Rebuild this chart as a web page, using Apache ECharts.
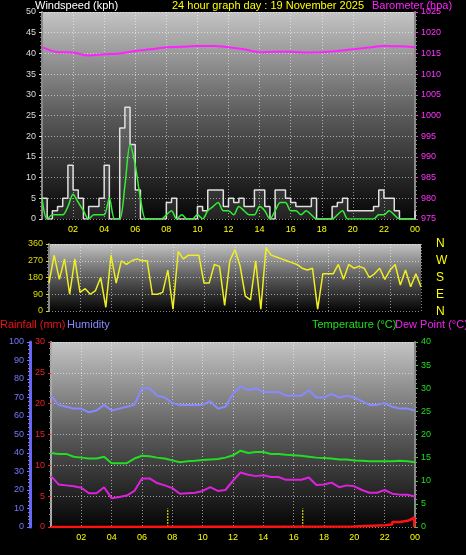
<!DOCTYPE html><html><head><meta charset="utf-8">
<script src="https://cdn.jsdelivr.net/npm/echarts@6/dist/echarts.min.js"></script>
<style>html,body{margin:0;background:#000}#c{width:466px;height:555px}</style></head><body><div id="c"></div><script>
// 20-minute samples 0:00..24:00
const windGust=[5,0,2,3,5,13,7,5,0,3,3,5,13,0,0,22,27,18,7,0,0,0,0,0,4,5,0,0,0,0,3,2,7,7,7,3,5,4,5,3,3,7,7,3,0,7,7,5,4,3,3,3,5,0,0,0,3,4,5,2,2,2,2,2,3,7,5,5,2,0,0,0,2];
const windAvg=[5,0,1,1,1,3,6,4,2,0,1,1,1,5,0,0,8,18,13,5,0,0,0,0,1,2,0,1,0,0,1,0,2,3,4,2,2,1,3,2,1,1,3,2,0,2,4,4,2,2,1,2,1,0,0,0,0,1,2,0,0,0,0,0,0,1,1,2,1,0,0,0,0];
const windDir=[150,300,170,280,90,280,100,120,90,110,180,20,300,150,270,250,270,280,270,270,90,90,100,220,10,320,280,300,300,300,150,150,250,240,30,270,330,240,80,60,270,10,340,300,290,280,270,260,250,230,220,230,10,200,200,200,250,170,250,230,240,230,180,200,230,170,220,250,140,220,130,200,130];
// hourly
const baro=[1016.5,1015.3,1015.2,1014.5,1014.8,1015,1015.6,1016,1016.5,1016.6,1016.8,1016.8,1016.5,1016,1015.3,1015.4,1015.4,1015.2,1015.3,1015.6,1016,1016.4,1016.8,1016.7,1016.5];
// half-hourly
const humidity=[71,66,65,64,64,62,63,66,63,64,65,66,75,75,71,70,67,66,66,66,66,68,64,65,72,76,74,75,73,73,73,71,71,71,74,70,70,72,70,71,70,68,66,66,67,65,64,64,63];
const temperature=[16,15.8,15.8,15.2,15,14.8,14.8,15.2,13.8,13.8,13.8,14.8,15.4,15.3,15,14.8,14.4,14,14.2,14.3,14.5,14.6,14.7,15,15.5,16.5,16,16.2,16.2,15.8,15.8,15.6,15.5,15.4,15.2,15,14.9,14.8,14.6,14.6,14.4,14.3,14.2,14.2,14.2,14.2,14.3,14.2,14];
const dewPoint=[11,9.2,9,8.8,8.5,7.3,7.3,8.6,6.2,6.5,6.8,7.8,10.5,10.5,9.5,9,8.4,7.2,7.3,7.4,7.8,8.6,7.8,8,10,11.8,11.3,11,11.2,10.8,10.8,10.2,10.2,10.2,10.7,9.1,9.2,9.6,8.6,9,8.8,8,7.4,7.4,8,7.2,7,7,6.6];
const rainTimes=[0,1.8,20,22,22.5,23,23.5,23.8,23.95];
const rainVals=[0,0.1,0.3,0.4,0.8,1,1.3,1.6,0];
const markerTimes=[7.7,16.6];
const hourLabels=['','02','04','06','08','10','12','14','16','18','20','22','00'];

const pts=(arr,step)=>arr.map((v,i)=>[i*step,v]);
const ff='Liberation Sans, Arial, sans-serif';
const bg={type:'linear',x:0,y:0,x2:0,y2:1,colorStops:[{offset:0,color:'#c4c4c4'},{offset:0.5,color:'#5a5a5a'},{offset:1,color:'#050505'}]};
const dot={show:true,lineStyle:{color:'rgba(255,255,255,0.55)',type:[1,2],width:1}};
function xAx(gi,show){return {type:'value',gridIndex:gi,min:0,max:24,interval:2,
 axisLine:{show:false},axisTick:{show:false},splitLine:dot,
 axisLabel:{show:show,color:'#ffff00',fontSize:9,fontFamily:ff,margin:6,formatter:v=>hourLabels[v/2]}};}
function yAx(gi,min,max,interval,color,pos,extra){return Object.assign({type:'value',gridIndex:gi,min,max,interval,position:pos,
 axisLine:{show:true,lineStyle:{color:'#888',width:2}},axisTick:{show:true,inside:false,length:3,lineStyle:{color:color}},
 minorTick:{show:true,splitNumber:5,length:2,lineStyle:{color:'#888'}},
 axisLabel:{color,fontSize:9,fontFamily:ff,margin:6},splitLine:{show:false}},extra||{});}

const markerData=[];markerTimes.forEach(t=>{markerData.push([t,0],[t,3],null);});
const opt={backgroundColor:'#000',animation:false,
 grid:[{left:42,top:12,width:373,height:207,show:true,backgroundColor:bg,borderWidth:0},
       {left:49,top:244,width:372,height:67,show:true,backgroundColor:bg,borderWidth:0},
       {left:51,top:342,width:364,height:185,show:true,backgroundColor:bg,borderWidth:0}],
 xAxis:[xAx(0,true),xAx(1,false),xAx(2,true)],
 yAxis:[yAx(0,0,50,5,'#dddddd','left',{splitLine:dot}),
        yAx(0,975,1025,5,'#ff33ff','right',{axisLabel:{color:'#ff33ff',fontSize:9,fontFamily:ff,margin:6,formatter:v=>String(v)}}),
        yAx(1,0,360,90,'#dddd00','left',{splitLine:dot}),
        yAx(2,0,30,5,'#ee2222','left',{splitLine:dot,axisLine:{show:true,lineStyle:{color:'#aaa',width:2}}}),
        yAx(2,0,100,10,'#7777ff','left',{offset:21,axisLine:{show:true,lineStyle:{color:'#6666ff',width:3}}}),
        yAx(2,0,40,5,'#22dd22','right')],
 series:[
  {type:'line',xAxisIndex:0,yAxisIndex:0,data:pts(windGust,1/3),step:'end',symbol:'none',lineStyle:{color:'#e0e0e0',width:1.5},areaStyle:{color:'rgba(220,220,220,0.2)'}},
  {type:'line',xAxisIndex:0,yAxisIndex:0,data:pts(windAvg,1/3),smooth:0.3,symbol:'none',lineStyle:{color:'#33ee33',width:1.5}},
  {type:'line',xAxisIndex:0,yAxisIndex:1,data:pts(baro,1),smooth:0.3,symbol:'none',lineStyle:{color:'#ff22ff',width:2}},
  {type:'line',xAxisIndex:1,yAxisIndex:2,data:pts(windDir,1/3),symbol:'none',lineStyle:{color:'#eeee22',width:1.5}},
  {type:'line',xAxisIndex:2,yAxisIndex:4,data:pts(humidity,0.5),symbol:'none',lineStyle:{color:'#8888ff',width:2}},
  {type:'line',xAxisIndex:2,yAxisIndex:5,data:pts(temperature,0.5),symbol:'none',lineStyle:{color:'#22dd22',width:2}},
  {type:'line',xAxisIndex:2,yAxisIndex:5,data:pts(dewPoint,0.5),symbol:'none',lineStyle:{color:'#dd22dd',width:2}},
  {type:'line',xAxisIndex:2,yAxisIndex:3,data:markerData,connectNulls:false,symbol:'none',lineStyle:{color:'#ffff00',width:1,type:[2,1]}},
  {type:'line',xAxisIndex:2,yAxisIndex:3,data:rainTimes.map((t,i)=>[t,rainVals[i]]),step:'end',symbol:'none',lineStyle:{color:'#ff1111',width:2.5}}
 ],
 graphic:[
  {type:'text',left:35,top:0,style:{text:'Windspeed (kph)',fill:'#ffffff',font:'11px '+ff}},
  {type:'text',left:172,top:0,style:{text:'24 hour graph day : 19 November 2025',fill:'#ffff00',font:'11px '+ff}},
  {type:'text',left:372,top:0,style:{text:'Barometer (hpa)',fill:'#ff22ff',font:'11px '+ff}},
  {type:'text',left:0,top:319,style:{text:'Rainfall (mm)',fill:'#ee1111',font:'11px '+ff}},
  {type:'text',left:67,top:319,style:{text:'Humidity',fill:'#8888ff',font:'11px '+ff}},
  {type:'text',left:312,top:319,style:{text:'Temperature (°C)',fill:'#22dd22',font:'11px '+ff}},
  {type:'text',left:395,top:319,style:{text:'Dew Point (°C)',fill:'#ee22ee',font:'11px '+ff}},
  ...['N','W','S','E','N'].map((t,i)=>({type:'text',left:436,top:238+i*17,style:{text:t,fill:'#ffff00',font:'12px '+ff}}))
 ]};
echarts.init(document.getElementById('c')).setOption(opt);
</script></body></html>
